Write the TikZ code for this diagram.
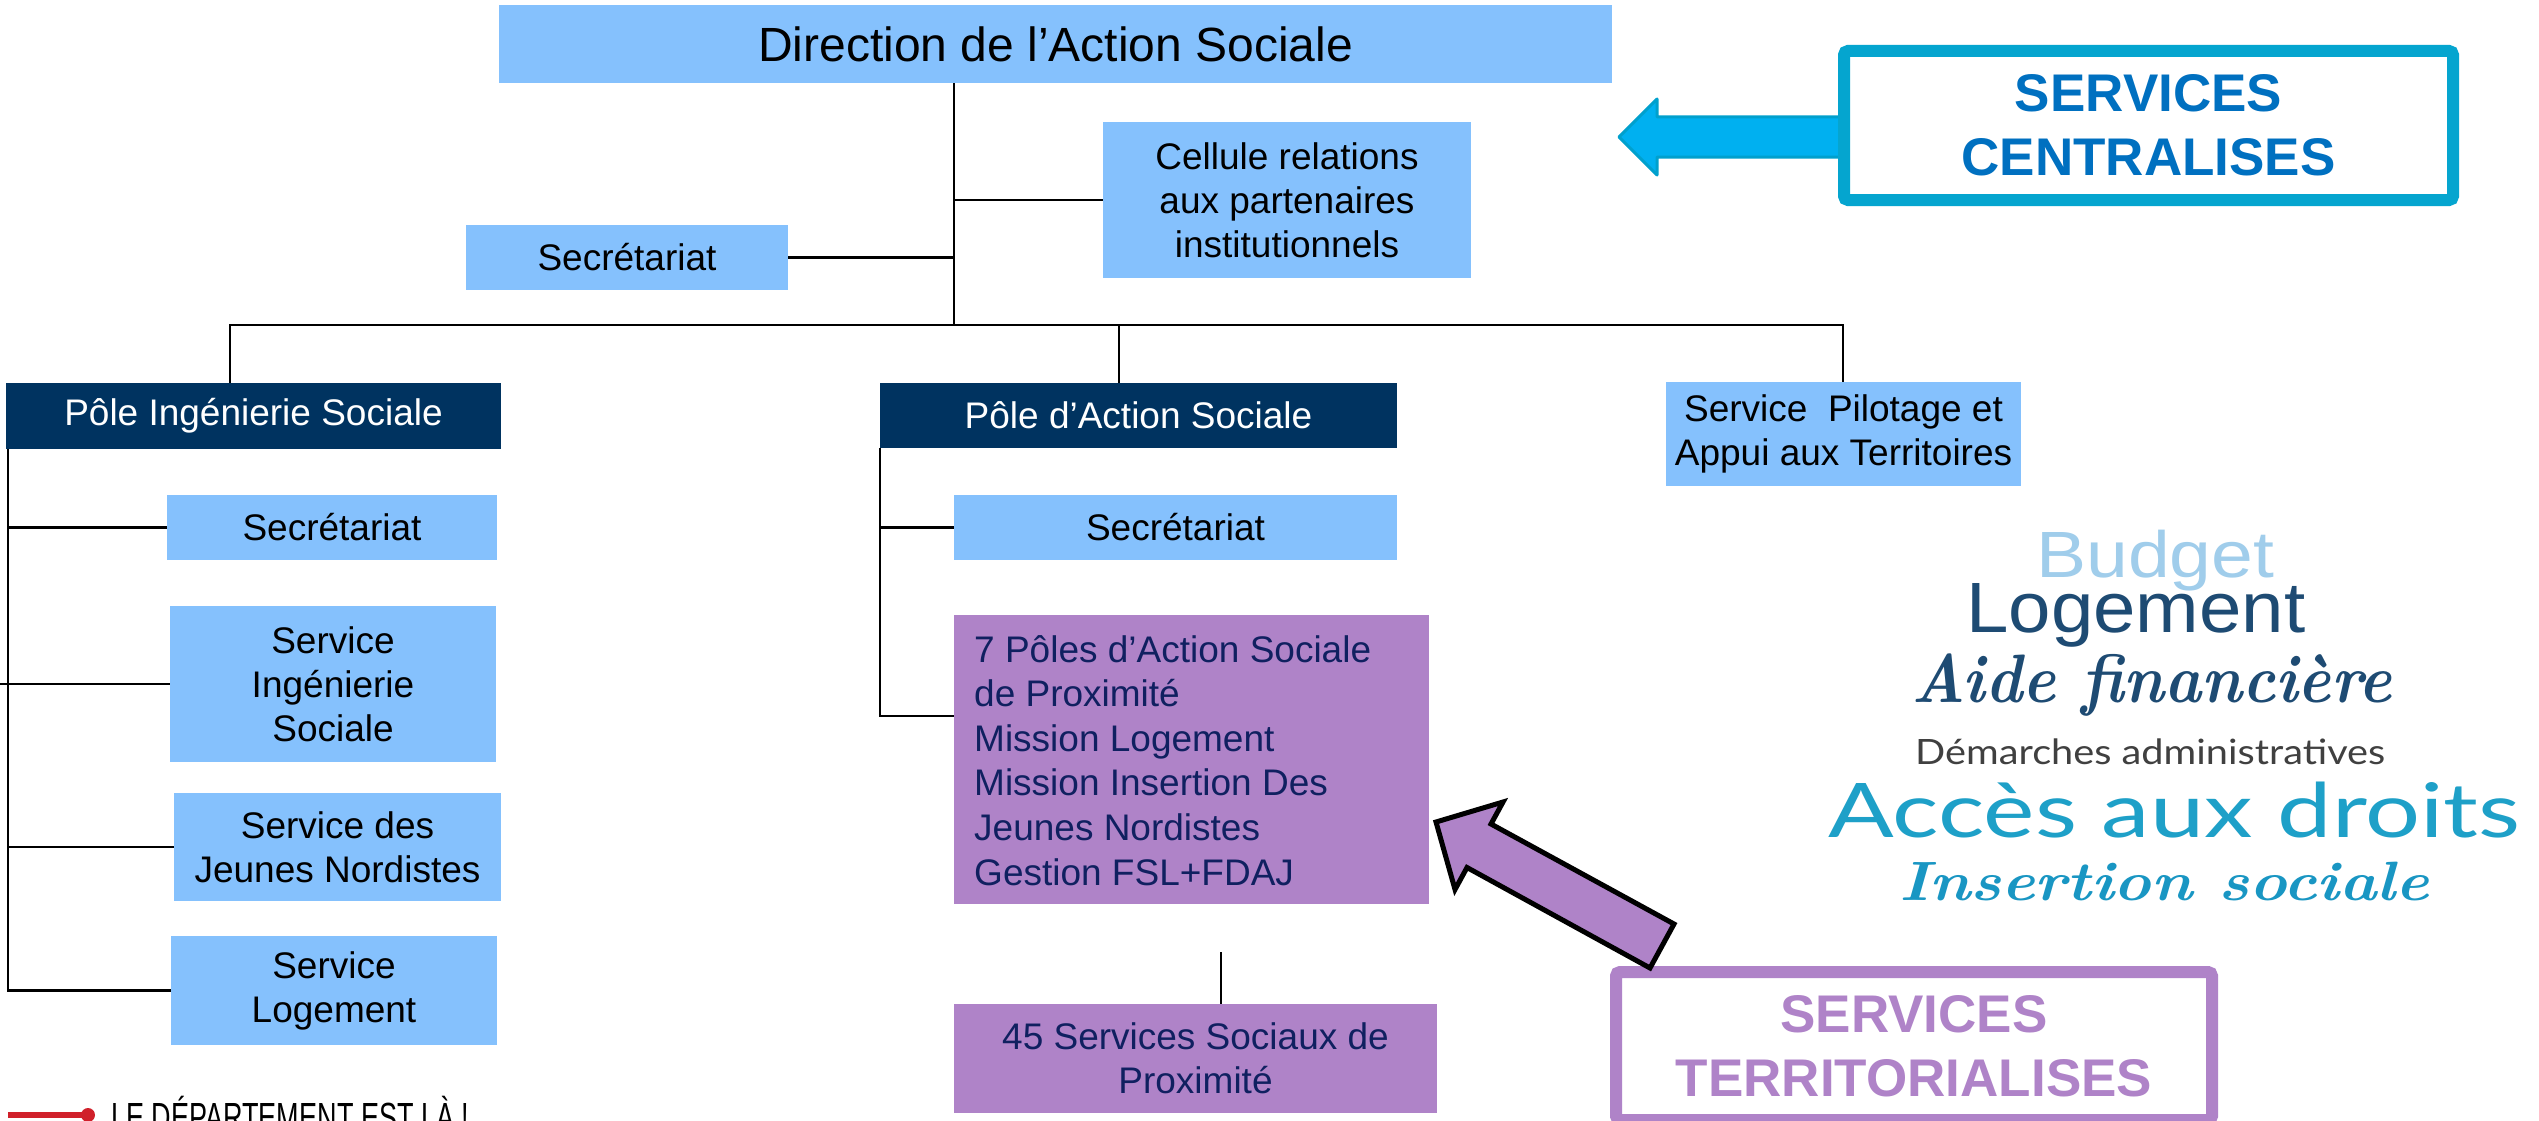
\documentclass[tikz,border=0pt]{standalone}
\usepackage{fontspec}
\usepackage{graphicx}
\newfontfamily\arial{Liberation Sans}
\newfontfamily\latof{Lato}
\definecolor{lightbox}{RGB}{133,193,253}
\definecolor{navybox}{RGB}{0,51,96}
\definecolor{purplebox}{RGB}{175,131,200}
\definecolor{ptext}{RGB}{16,32,96}
\definecolor{svcblue}{RGB}{0,112,192}
\definecolor{framecol}{RGB}{5,165,207}
\definecolor{arrowfill}{RGB}{0,176,240}
\definecolor{arrowline}{RGB}{0,160,205}
\definecolor{cBudget}{RGB}{160,205,235}
\definecolor{cLog}{RGB}{30,75,115}
\definecolor{cDem}{RGB}{64,64,64}
\definecolor{cAcc}{RGB}{30,160,200}
\definecolor{cIns}{RGB}{25,150,195}
\definecolor{logored}{RGB}{208,32,42}
\newcommand\fitword[4]{\resizebox{#1}{#2}{#3\smash{#4}\vphantom{H}}}
\tikzset{
  txt/.style={font=\arial\fontsize{37}{44}\selectfont, align=center, inner sep=0pt},
  lb/.style={txt, fill=lightbox, text=black},
  nb/.style={txt, fill=navybox, text=white},
  pb/.style={txt, fill=purplebox, text=ptext},
  conn/.style={draw=black, line width=2.2pt},
  bigframe/.style={line width=12pt, fill=white, rounded corners=4pt, inner sep=0pt,
     align=center, font=\arial\bfseries\fontsize{53}{64}\selectfont},
  cloud/.style={anchor=base west, inner sep=0pt},
}
\begin{document}
\begin{tikzpicture}[x=1pt,y=-1pt]
\useasboundingbox (0,0) rectangle (2539,1121);
\clip (0,0) rectangle (2539,1121);
\fill[white] (0,0) rectangle (2539,1121);

% boxes
\node[lb, minimum width=1113pt, minimum height=78pt, font=\arial\fontsize{48}{58}\selectfont] (dir) at (1055.5,44) {Direction de l’Action Sociale};
\node[lb, minimum width=368pt, minimum height=156pt] (cell) at (1287,200) {Cellule relations\\aux partenaires\\institutionnels};
\node[lb, minimum width=322pt, minimum height=65pt] (sec1) at (627,257.5) {Secrétariat};
\node[nb, minimum width=495pt, minimum height=66pt] (pis) at (253.5,416) {Pôle Ingénierie Sociale};
\node[lb, minimum width=330pt, minimum height=65pt] (sec2) at (332,527.5) {Secrétariat};
\node[lb, minimum width=326pt, minimum height=156pt] (sis) at (333,684) {Service\\Ingénierie\\Sociale};
\node[lb, minimum width=327pt, minimum height=108pt] (sjn) at (337.5,847) {Service des\\Jeunes Nordistes};
\node[lb, minimum width=326pt, minimum height=109pt] (slog) at (334,990.5) {Service\\Logement};
\node[nb, minimum width=517pt, minimum height=65pt] (pas) at (1138.5,415.5) {Pôle d’Action Sociale};
\node[lb, minimum width=443pt, minimum height=65pt] (sec3) at (1175.5,527.5) {Secrétariat};
\node[pb, minimum width=475pt, minimum height=289pt] (sept) at (1191.5,759.5) {};
\node[anchor=north west, inner sep=0pt, align=left, text=ptext, font=\arial\fontsize{37}{44.6}\selectfont] (septtxt) at (974,635) {7 Pôles d’Action Sociale\\de Proximité\\Mission Logement\\Mission Insertion Des\\Jeunes Nordistes\\Gestion FSL+FDAJ};
\node[pb, minimum width=483pt, minimum height=109pt] (s45) at (1195.5,1058.5) {45 Services Sociaux de\\Proximité};
\node[lb, minimum width=355pt, minimum height=104pt] (spat) at (1843.5,434) {Service~ Pilotage et\\Appui aux Territoires};

% connectors
\coordinate (jbus) at (954,325);
\coordinate (busL) at (230,325);
\coordinate (busM) at (1119,325);
\coordinate (busR) at (1843,325);
\draw[conn] (dir.south -| jbus) -- (jbus);
\draw[conn] (sec1.east) -- (sec1.east -| jbus);
\draw[conn] (cell.west) -- (cell.west -| jbus);
\draw[conn] (busL |- pis.north) -- (busL) -- (busR) -- (busR |- spat.north);
\draw[conn] (busM) -- (busM |- pas.north);
\coordinate (lsp) at (8,449);
\draw[conn] (lsp) -- (lsp |- slog.west) -- (slog.west);
\draw[conn] (sec2.west) -- (sec2.west -| lsp);
\draw[conn] (sjn.west) -- (sjn.west -| lsp);
\coordinate (lstub) at (0,684);
\draw[conn] (sis.west) -- (sis.west -| lstub);
\coordinate (c7) at (954,716);
\draw[conn] (pas.south west) -- (pas.south west |- c7) -- (c7);
\draw[conn] (sec3.west) -- (sec3.west -| pas.south west);
\coordinate (c45) at (1221,952);
\draw[conn] (c45) -- (c45 |- s45.north);

% services centralises
\draw[draw=arrowline, fill=arrowfill, line width=3pt, line join=round] (1619,137) -- (1657,99) -- (1657,117) -- (1844,117) -- (1844,157) -- (1657,157) -- (1657,175) -- cycle;
\node[bigframe, draw=framecol, text=svcblue, minimum width=609pt, minimum height=149pt] (sc) at (2148.5,125.5) {SERVICES\\CENTRALISES};

% services territorialises
\node[bigframe, draw=purplebox, text=purplebox, minimum width=596pt, minimum height=148pt] (st) at (1914,1046) {SERVICES\\TERRITORIALISES};
\draw[black, fill=purplebox, line width=5pt, line join=miter] (1436,822) -- (1503,802) -- (1491,824) -- (1674,924) -- (1650,968) -- (1467,867.5) -- (1455,889.5) -- cycle;

% word cloud
\node[cloud, text=cBudget] (wb) at (2036,577) {\fitword{238pt}{45pt}{\arial}{Budget}};
\node[cloud, text=cLog] (wl) at (1966,632) {\fitword{339pt}{49pt}{\arial}{Logement}};
\node[cloud, text=cLog] (wa) at (1911,702) {\fitword{481pt}{47pt}{\bfseries\itshape}{Aide financière}};
\node[cloud, text=cDem] (wd) at (1915,764) {\fitword{470pt}{25pt}{\latof}{Démarches administratives}};
\node[cloud, text=cAcc] (wacc) at (1828,837) {\fitword{692pt}{54pt}{\latof}{Accès aux droits}};
\node[cloud, text=cIns] (wi) at (1899,900) {\fitword{530pt}{38pt}{\bfseries\itshape}{Insertion sociale}};

% logo
\draw[logored, line width=6pt] (8,1115) -- (88,1115);
\fill[logored] (88,1115) circle (7pt);
\node[cloud, text=black] (logo) at (111,1131) {\fitword{358pt}{28pt}{\arial}{LE DÉPARTEMENT EST LÀ !}};
\end{tikzpicture}
\end{document}
